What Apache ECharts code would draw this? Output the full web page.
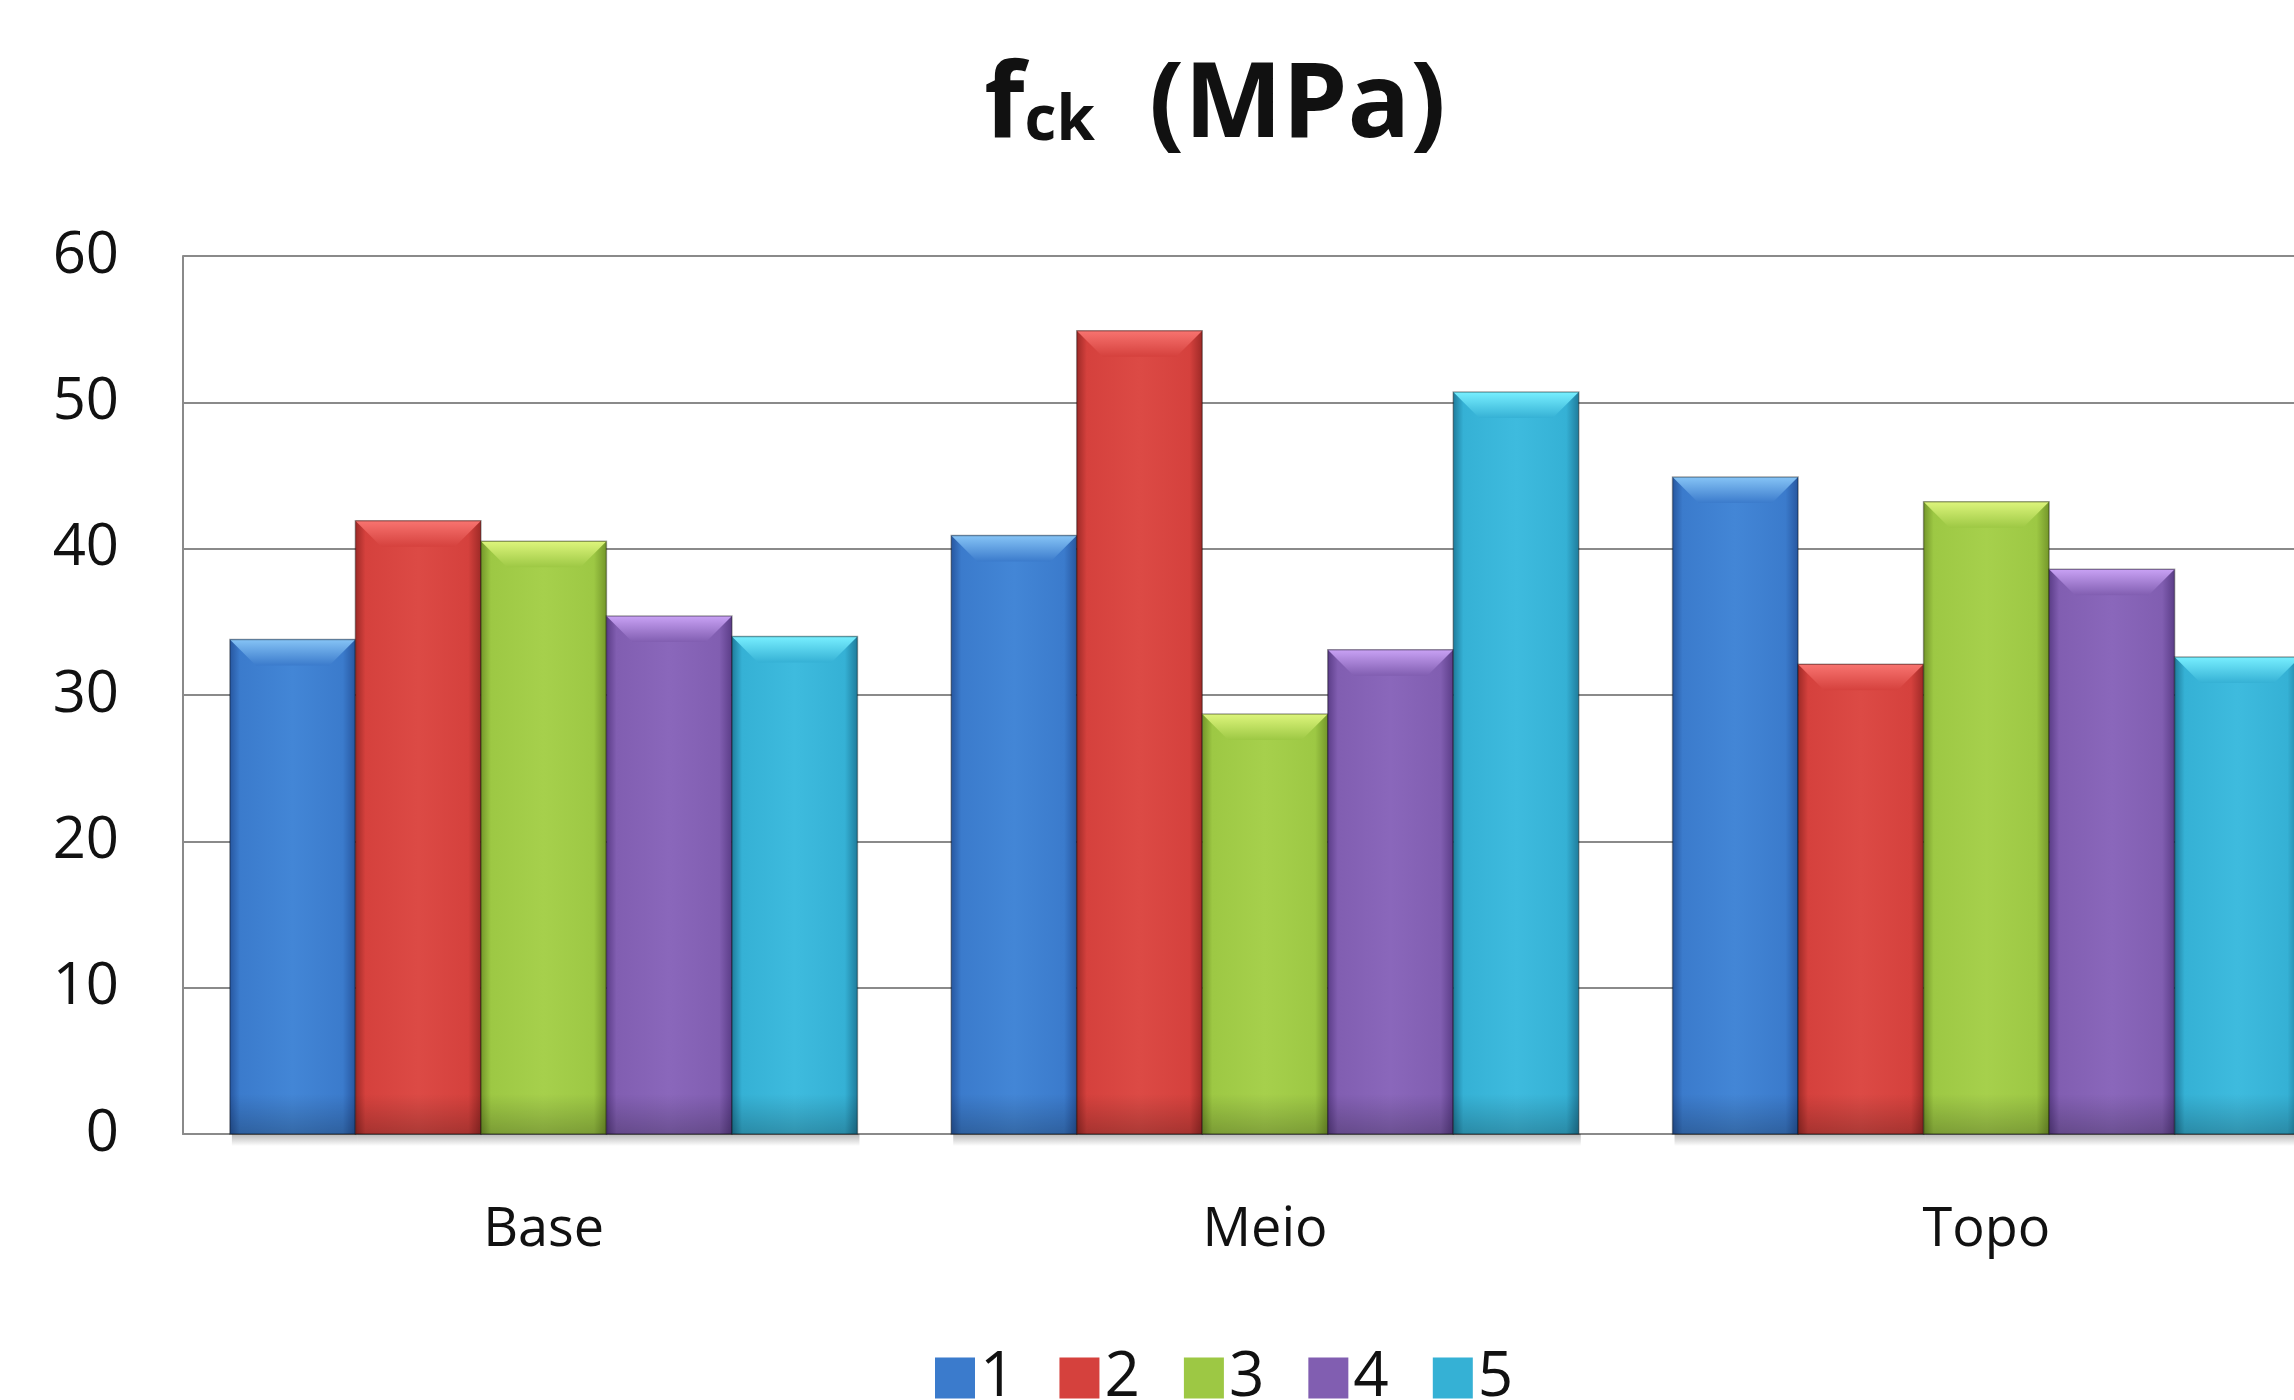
<!DOCTYPE html>
<html>
<head>
<meta charset="utf-8">
<script src="https://cdn.jsdelivr.net/npm/echarts@6/dist/echarts.min.js"></script>
<style>
html,body{margin:0;padding:0;background:#fff;overflow:hidden;}
#chart{width:2360px;height:1400px;}
</style>
</head>
<body>
<div id="chart"></div>
<script>
const categories = ['Base', 'Meio', 'Topo'];
const seriesNames = ['1', '2', '3', '4', '5'];
const s1 = [33.8, 40.9, 44.9];
const s2 = [41.9, 54.9, 32.1];
const s3 = [40.5, 28.7, 43.2];
const s4 = [35.4, 33.1, 38.6];
const s5 = [34.0, 50.7, 32.6];
const yTicks = [0, 10, 20, 30, 40, 50, 60];

const values = [s1, s2, s3, s4, s5];
const palette = [
  {base:'#3B7BCC', light:'#4386D6', edge:'#2757A0', top:'#86C4F6', bottom:'#2C62AC'},
  {base:'#D5413D', light:'#DC4A45', edge:'#9E2A27', top:'#F87470', bottom:'#A83431'},
  {base:'#9DC844', light:'#A6D04C', edge:'#74972A', top:'#DDF57C', bottom:'#7FA232'},
  {base:'#815EB1', light:'#8A67BB', edge:'#5B3D88', top:'#C9A2F5', bottom:'#674692'},
  {base:'#35B1D5', light:'#3EBBDE', edge:'#1F7C9C', top:'#78EFFF', bottom:'#2690AE'}
];
const GAP = 0.13;

function makeRender(si){
  const p = palette[si];
  return function(params, api){
    const cat = api.value(0), val = api.value(1);
    const b = api.coord([cat, 0]);
    const t = api.coord([cat, val]);
    const band = api.size([1, 0])[0];
    const gw = band * (1 - GAP);
    const bw = gw / seriesNames.length;
    const x0 = b[0] - gw / 2 + si * bw;
    const y0 = t[1];
    const h = b[1] - t[1];
    const bev = Math.min(26, h / 2);
    return {
      type:'group',
      children:[
        {type:'rect', shape:{x:x0+2, y:b[1], width:bw, height:12},
          style:{fill:new echarts.graphic.LinearGradient(0,0,0,1,[
            {offset:0,color:'rgba(0,0,0,0.28)'},{offset:1,color:'rgba(0,0,0,0)'}])}},
        {type:'rect', shape:{x:x0, y:y0, width:bw, height:h},
          style:{fill:new echarts.graphic.LinearGradient(0,0,1,0,[
            {offset:0,color:p.edge},{offset:0.08,color:p.base},{offset:0.5,color:p.light},
            {offset:0.9,color:p.base},{offset:1,color:p.edge}])}},
        {type:'rect', shape:{x:x0, y:b[1]-Math.min(40,h/3), width:bw, height:Math.min(40,h/3)},
          style:{fill:new echarts.graphic.LinearGradient(0,0,0,1,[
            {offset:0,color:'rgba(0,0,0,0)'},{offset:1,color:'rgba(0,0,0,0.22)'}])}},
        {type:'polygon', shape:{points:[[x0,y0],[x0+bw,y0],[x0+bw-bev,y0+bev],[x0+bev,y0+bev]]},
          style:{fill:new echarts.graphic.LinearGradient(0,0,0,1,[
            {offset:0,color:p.top},{offset:1,color:p.base}])}},
        {type:'rect', shape:{x:x0, y:y0, width:bw, height:h},
          style:{fill:'none', stroke:'rgba(0,0,0,0.35)', lineWidth:1.5}}
      ]
    };
  };
}

const chart = echarts.init(document.getElementById('chart'));
chart.setOption({
  backgroundColor:'#ffffff',
  animation:false,
  title:{
    text:'{a|f}{b|ck}{a|  (MPa)}',
    left:1210, top:50, textAlign:'center',
    textStyle:{
      rich:{
        a:{fontFamily:'Open Sans', fontWeight:'bold', fontSize:104, color:'#111'},
        b:{fontFamily:'Open Sans', fontWeight:'bold', fontSize:62, color:'#111', padding:[30,0,0,0]}
      }
    }
  },
  legend:{
    data:seriesNames,
    left:930, top:1342,
    itemWidth:40, itemHeight:41, itemGap:44,
    icon:'rect',
    textStyle:{fontFamily:'Open Sans', fontSize:62, color:'#111'}
  },
  grid:{left:183, top:256, bottom:266, right:13, containLabel:false},
  xAxis:{
    type:'category', data:categories,
    axisLine:{lineStyle:{color:'#8a8a8a', width:2}},
    axisTick:{show:false},
    axisLabel:{fontFamily:'Open Sans', fontSize:54, color:'#111', margin:70}
  },
  yAxis:{
    type:'value', min:yTicks[0], max:yTicks[yTicks.length-1], interval:10,
    axisLine:{show:true, lineStyle:{color:'#8a8a8a', width:2}},
    axisTick:{show:false},
    splitLine:{lineStyle:{color:'#8a8a8a', width:2}},
    axisLabel:{fontFamily:'Open Sans', fontSize:58, color:'#111', margin:64}
  },
  series: values.map((v,i)=>({
    name:seriesNames[i], type:'custom',
    data:v.map((val,j)=>[j,val]),
    encode:{x:0, y:1},
    itemStyle:{color:palette[i].base},
    renderItem:makeRender(i)
  }))
});
</script>
</body>
</html>
